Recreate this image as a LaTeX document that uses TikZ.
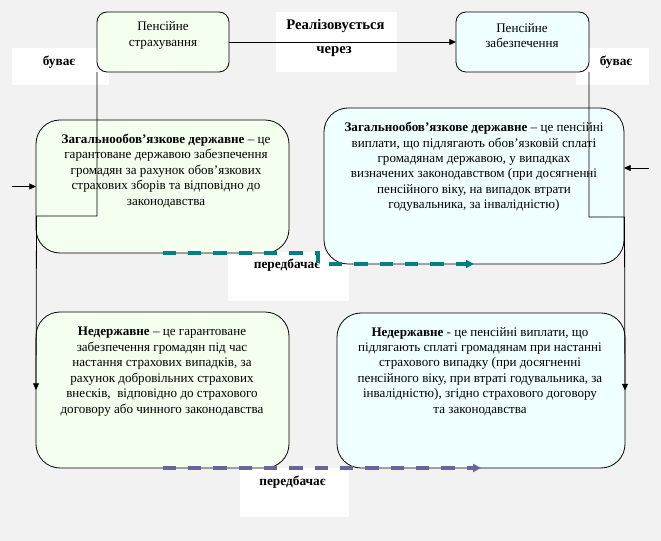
\documentclass[tikz,border=0pt]{standalone}
\usepackage{fontspec}
\setmainfont{Liberation Serif}
\usetikzlibrary{calc,arrows.meta}
\definecolor{bgGrey}{HTML}{F2F2F2}
\definecolor{fillGreen}{HTML}{F4FFEF}
\definecolor{fillCyan}{HTML}{F0FFFF}
\definecolor{dashTeal}{HTML}{008080}
\definecolor{dashSlate}{HTML}{666699}
\tikzset{
	box/.style={draw=black, line width=0.6pt, rounded corners=18pt, inner sep=0pt, outer sep=0pt},
	topbox/.style={box, rounded corners=7.5pt},
	bodytxt/.style={align=center, font=\fontsize{9.8}{11.6}\selectfont, inner sep=0pt},
	lbl/.style={font=\fontsize{10}{12}\selectfont\bfseries, inner sep=0pt},
	conn/.style={line width=0.6pt, -{Triangle[length=5pt,width=4.5pt]}},
	pred/.style={line width=2.3pt, dash pattern=on 10pt off 9pt, -{Triangle[length=6pt,width=6pt]}},
}

\begin{document}
\begin{tikzpicture}[x=0.75pt,y=-0.75pt]
			%%%%% START %%%%%
			\fill[bgGrey] (0, 0) rectangle (661, 541);
			\useasboundingbox (0, 0) rectangle (661, 541);
			
			% white label fields
			\fill[white] (12, 48) rectangle (109, 85);
			\fill[white] (576, 48) rectangle (649, 85);
			\fill[white] (276, 12) rectangle (397, 72);
			\fill[white] (228, 252) rectangle (349, 301);
			\fill[white] (240, 468) rectangle (349, 517);
			
			\node[lbl] (buvL) at (59, 62) {буває};
			\node[lbl] (buvR) at (616, 62) {буває};
			\node[lbl, font=\fontsize{11}{13}\selectfont\bfseries] (realiz) at (335.5, 26) {Реалізовується};
			\node[lbl, font=\fontsize{11}{13}\selectfont\bfseries] (cherez) at (334, 52) {через};
			\node[lbl] (predU) at (287, 265.5) {передбачає};
			\node[lbl] (predD) at (292.5, 482) {передбачає};
			
			% boxes
			\node[topbox, fill=fillGreen, minimum width=99pt, minimum height=45pt] (strL) at (163, 42) {};
			\node[topbox, fill=fillCyan, minimum width=99.75pt, minimum height=45pt] (zabR) at (522.5, 42) {};
			\node[box, fill=fillGreen, minimum width=189.75pt, minimum height=99.75pt] (genL) at (162.5, 186.5) {};
			\node[box, fill=fillCyan, minimum width=225pt, minimum height=117pt] (genR) at (474, 186) {};
			\node[box, fill=fillGreen, minimum width=189.75pt, minimum height=117pt] (nonL) at (162.5, 390) {};
			\node[box, fill=fillCyan, minimum width=216pt, minimum height=116.25pt] (nonR) at (481, 390.5) {};
			
			\node[bodytxt] (tStrL) at (163, 35.5) {Пенсійне\\страхування};
			\node[bodytxt] (tZabR) at (522, 35.5) {Пенсійне\\забезпечення};
			\node[bodytxt] (tGenL) at (166, 171) {\textbf{Загальнообов’язкове державне} – це\\гарантоване державою забезпечення\\громадян за рахунок обов’язкових\\страхових зборів та відповідно до\\законодавства};
			\node[bodytxt] (tGenR) at (474, 167) {\textbf{Загальнообов’язкове державне} – це пенсійні\\виплати, що підлягають обов’язковій сплаті\\громадянам державою, у випадках\\визначених законодавством (при досягненні\\пенсійного віку, на випадок втрати\\годувальника, за інвалідністю)};
			\node[bodytxt] (tNonL) at (162, 371.5) {\textbf{Недержавне} – це гарантоване\\забезпечення громадян під час\\настання страхових випадків, за\\рахунок добровільних страхових\\внесків,\ \ відповідно до страхового\\договору або чинного законодавства};
			\node[bodytxt] (tNonR) at (480, 371.5) {\textbf{Недержавне} - це пенсійні виплати, що\\підлягають сплаті громадянам при настанні\\страхового випадку (при досягненні\\пенсійного віку, при втраті годувальника, за\\інвалідністю), згідно страхового договору\\та законодавства};
			
			% connectors
			\coordinate (kneeL) at (36.5, 216);
			\coordinate (kneeR) at (624.5, 217);
			\coordinate (inL) at (12, 186.5);
			\coordinate (inR) at (649, 168);
			
			\draw[conn] (strL.east) -- (zabR.west);
			\draw[conn] (strL.south west) |- (kneeL) -- (nonL.west);
			\draw[conn] (zabR.south east) |- (kneeR) -- (nonR.east);
			\draw[conn] (inL) -- (genL.west);
			\draw[conn] (inR) -- (genR.east |- inR);
			
			\draw[pred, draw=dashTeal] (genL.south) -- ++(155.5, 0) |- (genR.south);
			\draw[pred, draw=dashSlate] (nonL.south) -- (nonR.south);
			%%%%% END %%%%%
\end{tikzpicture}
\end{document}
